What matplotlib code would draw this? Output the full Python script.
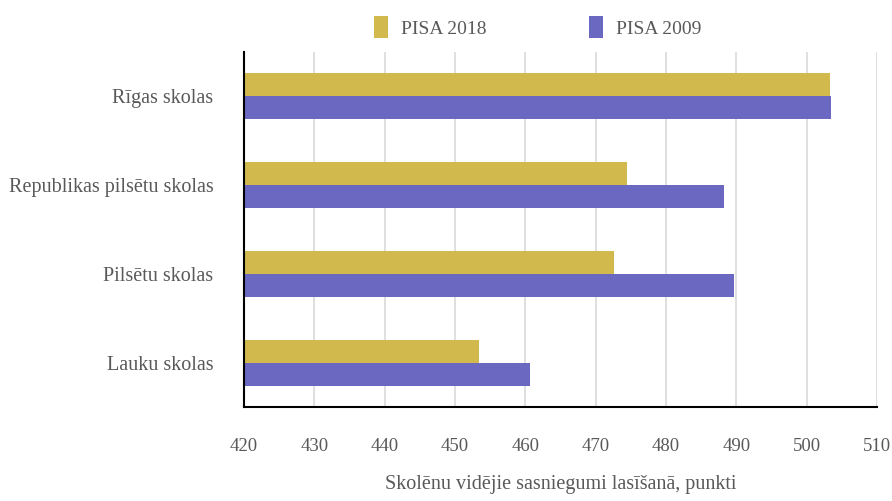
import matplotlib
matplotlib.use('Agg')
from matplotlib import pyplot as plt
import numpy as np

categories = ['Rīgas skolas', 'Republikas pilsētu skolas', 'Pilsētu skolas', 'Lauku skolas']
pisa_2018 = [503.3, 474.5, 472.6, 453.4]
pisa_2009 = [503.5, 488.3, 489.7, 460.7]
xticks = list(range(420, 511, 10))

plt.rcParams['font.family'] = ['Liberation Serif', 'DejaVu Serif']
grey = '#595959'
c2018 = '#D1B94E'
c2009 = '#6A68C1'

fig = plt.figure(figsize=(8.92, 5.01), dpi=100)
ax = fig.add_axes([0.2735, 0.1876, 0.7095, 0.7085])

y = np.arange(len(categories))
h = 0.26
ax.barh(y - h / 2, [v - 420 for v in pisa_2018], left=420, height=h, color=c2018, label='PISA 2018', zorder=3)
ax.barh(y + h / 2, [v - 420 for v in pisa_2009], left=420, height=h, color=c2009, label='PISA 2009', zorder=3)

ax.set_xlim(420, 510)
ax.set_ylim(len(categories) - 0.5, -0.5)
ax.set_xticks(xticks)
ax.set_yticks(y)
ax.set_yticklabels(categories)
ax.tick_params(axis='x', length=0, pad=22, labelsize=13.5, labelcolor=grey)
ax.tick_params(axis='y', length=0, pad=22, labelsize=14.5, labelcolor=grey)
ax.grid(axis='x', color='#D9D9D9', linewidth=1.2, zorder=0)
for s in ['top', 'right']:
    ax.spines[s].set_visible(False)
for s in ['left', 'bottom']:
    ax.spines[s].set_color('black')
    ax.spines[s].set_linewidth(1.5)
    ax.spines[s].set_zorder(4)

ax.set_xlabel('Skolēnu vidējie sasniegumi lasīšanā, punkti', fontsize=14.5, color=grey, labelpad=15)

leg = ax.legend(loc='center', bbox_to_anchor=(0.464, 1.07), ncol=2, frameon=False,
                fontsize=14, handlelength=0.72, handleheight=1.4, columnspacing=5.3, handletextpad=0.67)
for t in leg.get_texts():
    t.set_color(grey)

fig.savefig('out.png', dpi=100)
